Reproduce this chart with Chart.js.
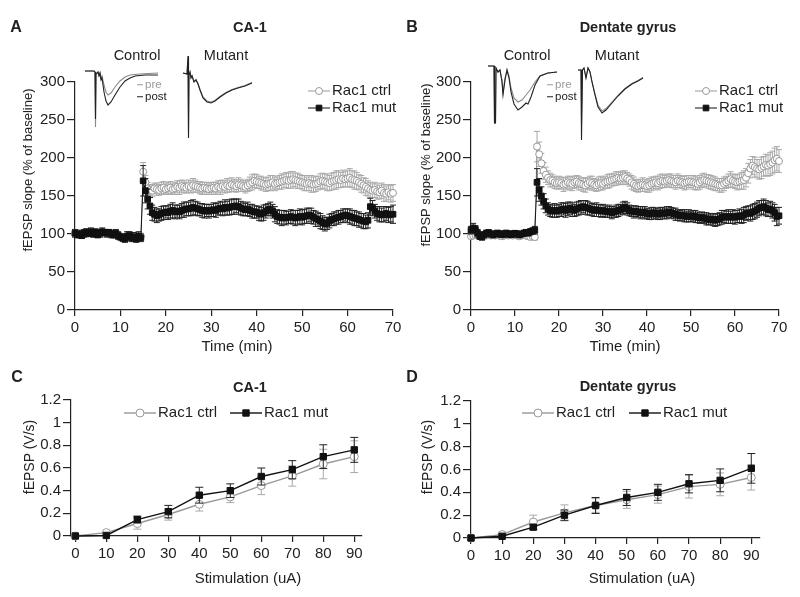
<!DOCTYPE html>
<html>
<head>
<meta charset="utf-8">
<script src="https://cdn.jsdelivr.net/npm/chart.js@4.4.0/dist/chart.umd.min.js"></script>
<style>
  body { margin: 0; background: #fff; }
  #fig { position: relative; width: 800px; height: 597px; font-family: "Liberation Sans", Arial, sans-serif; color: #222; overflow: hidden; }
  canvas { position: absolute; left: 0; top: 0; }
  .t { position: absolute; white-space: nowrap; line-height: 1; transform: translate(-50%, -50%); }
  .l { position: absolute; white-space: nowrap; line-height: 1; transform: translate(0, -50%); }
  .b { font-weight: bold; }
  .rot { transform: translate(-50%, -50%) rotate(-90deg); }
  .dash { display: inline-block; width: 6px; height: 0; border-top: 1px solid; vertical-align: middle; margin-right: 2px; }
</style>
</head>
<body>
<div id="fig">
  <canvas id="panelA" width="800" height="597"></canvas>
  <canvas id="panelB" width="800" height="597"></canvas>
  <canvas id="panelC" width="800" height="597"></canvas>
  <canvas id="panelD" width="800" height="597"></canvas>
  <canvas id="insetACtrl" width="76" height="70" style="left:84px;top:62px"></canvas>
  <canvas id="insetAMut" width="72" height="90" style="left:182px;top:52px"></canvas>
  <canvas id="insetBCtrl" width="72" height="70" style="left:487px;top:60px"></canvas>
  <canvas id="insetBMut" width="68" height="82" style="left:577px;top:62px"></canvas>

  <div class="t b" style="left:16px;top:27px;font-size:16px">A</div>
  <div class="t b" style="left:250px;top:27px;font-size:14.5px">CA-1</div>
  <div class="t b" style="left:412px;top:27px;font-size:16px">B</div>
  <div class="t b" style="left:628px;top:27px;font-size:14.5px">Dentate gyrus</div>
  <div class="t b" style="left:17px;top:377px;font-size:16px">C</div>
  <div class="t b" style="left:250px;top:387px;font-size:14.5px">CA-1</div>
  <div class="t b" style="left:412px;top:377px;font-size:16px">D</div>
  <div class="t b" style="left:628px;top:386px;font-size:14.5px">Dentate gyrus</div>

  <div class="t" style="left:137px;top:55px;font-size:14.5px">Control</div>
  <div class="t" style="left:226px;top:55px;font-size:14.5px">Mutant</div>
  <div class="t" style="left:527px;top:55px;font-size:14.5px">Control</div>
  <div class="t" style="left:617px;top:55px;font-size:14.5px">Mutant</div>

  <div class="l" style="left:137px;top:85px;font-size:11.5px;color:#999"><span class="dash"></span>pre</div>
  <div class="l" style="left:137px;top:97px;font-size:11.5px;color:#222"><span class="dash"></span>post</div>
  <div class="l" style="left:547px;top:85px;font-size:11.5px;color:#999"><span class="dash"></span>pre</div>
  <div class="l" style="left:547px;top:97px;font-size:11.5px;color:#222"><span class="dash"></span>post</div>

  <div class="t rot" style="left:27px;top:170px;font-size:13px">fEPSP slope (% of baseline)</div>
  <div class="t rot" style="left:425px;top:165px;font-size:13px">fEPSP slope (% of baseline)</div>
  <div class="t rot" style="left:29px;top:457px;font-size:14px">fEPSP (V/s)</div>
  <div class="t rot" style="left:427px;top:457px;font-size:14px">fEPSP (V/s)</div>

  <div class="t" style="left:237px;top:345px;font-size:15px">Time (min)</div>
  <div class="t" style="left:625px;top:345px;font-size:15px">Time (min)</div>
  <div class="t" style="left:248px;top:577px;font-size:15px">Stimulation (uA)</div>
  <div class="t" style="left:642px;top:577px;font-size:15px">Stimulation (uA)</div>
</div>

<script>
// ---- LTP time course (sweeps every 0.5 min, 0-70 min) ----
const sweepTimes = Array.from({ length: 141 }, (_, i) => i * 0.5);
const timeTicks = [0, 10, 20, 30, 40, 50, 60, 70];
const slopeTicks = [0, 50, 100, 150, 200, 250, 300];

const caCtrl = [
  100, 101, 99, 100, 102, 100, 101, 102, 101, 100, 101, 100, 102, 101, 100,
  101, 100, 99, 100, 98, 97, 96, 96, 98, 99, 97, 97, 96, 98, 97,
  182, 168, 160, 158, 157, 160, 159, 158, 160, 161,
  159, 160, 161, 159, 160, 162, 161, 163, 162, 161,
  163, 162, 164, 163, 162, 161, 160, 161, 160, 159,
  160, 161, 160, 162, 161, 163, 162, 164, 163, 165,
  164, 163, 165, 164, 163, 162, 164, 166, 168, 170,
  169, 168, 167, 166, 165, 166, 167, 168, 166, 167,
  168, 169, 170, 171, 170, 171, 172, 171, 170, 169,
  168, 167, 166, 167, 166, 165, 166, 167, 169, 170,
  169, 168, 167, 169, 170, 171, 172, 171, 173, 172,
  173, 174, 172, 171, 170, 168, 166, 164, 162, 160,
  158, 157, 158, 156, 155, 157, 154, 153, 155, 153, 154
];
const caCtrlErr = [
  4, 3, 4, 5, 3, 4, 4, 3, 5, 4, 3, 4, 4, 5, 3,
  4, 3, 4, 5, 4, 4, 3, 4, 5, 4, 3, 4, 4, 3, 4,
  12, 9, 8, 7, 8, 7, 8, 7, 8, 8,
  7, 8, 8, 7, 8, 8, 9, 8, 8, 7,
  8, 8, 9, 8, 7, 8, 8, 7, 8, 7,
  8, 7, 8, 8, 9, 8, 8, 9, 8, 9,
  8, 8, 9, 8, 7, 8, 8, 9, 10, 9,
  9, 8, 9, 8, 9, 9, 10, 9, 9, 8,
  9, 10, 9, 10, 10, 11, 10, 9, 10, 9,
  9, 10, 9, 10, 11, 10, 10, 9, 10, 10,
  10, 11, 10, 11, 11, 12, 11, 10, 11, 10,
  11, 12, 11, 12, 11, 10, 11, 10, 11, 10,
  10, 9, 10, 10, 9, 10, 11, 10, 10, 11, 11
];
const caMut = [
  101, 99, 100, 98, 101, 102, 101, 103, 100, 102, 99, 101, 103, 102, 101,
  102, 100, 99, 101, 98, 96, 95, 94, 97, 98, 95, 96, 94, 97, 95,
  170, 157, 146, 137, 128, 126, 124, 125, 127, 128,
  129, 128, 130, 131, 129, 130, 129, 131, 132, 133,
  133, 134, 135, 134, 133, 132, 131, 130, 131, 130,
  131, 132, 131, 133, 134, 133, 135, 134, 135, 136,
  136, 137, 136, 134, 133, 132, 133, 131, 130, 129,
  129, 127, 126, 128, 130, 132, 133, 130, 126, 123,
  122, 121, 122, 121, 122, 123, 122, 121, 122, 123,
  122, 123, 124, 125, 124, 122, 120, 119, 117, 115,
  113, 114, 117, 119, 120, 121, 122, 123, 124, 125,
  124, 123, 122, 121, 120, 119, 118, 117, 116, 118,
  136, 134, 130, 127, 126, 125, 126, 127, 125, 126, 126
];
const caMutErr = [
  5, 4, 5, 4, 5, 5, 4, 5, 4, 5, 4, 5, 5, 4, 5,
  4, 5, 4, 5, 5, 4, 5, 5, 6, 5, 5, 6, 5, 6, 5,
  20, 16, 13, 11, 10, 9, 9, 8, 9, 9,
  8, 9, 9, 10, 9, 8, 9, 9, 10, 9,
  9, 10, 10, 9, 9, 8, 9, 9, 8, 9,
  8, 9, 9, 8, 9, 9, 10, 9, 10, 10,
  10, 9, 10, 9, 9, 8, 9, 8, 9, 8,
  8, 9, 9, 10, 9, 8, 9, 9, 10, 9,
  9, 10, 9, 9, 8, 9, 9, 10, 9, 10,
  10, 9, 10, 9, 10, 9, 10, 9, 10, 9,
  9, 8, 9, 8, 9, 8, 9, 8, 9, 8,
  9, 10, 9, 10, 9, 10, 9, 10, 9, 10,
  11, 10, 9, 9, 10, 9, 10, 9, 10, 10, 12
];
const dgCtrl = [
  97, 98, 99, 98, 97, 98, 99, 98, 99, 98, 99, 98, 99, 98, 97,
  98, 99, 98, 99, 98, 99, 98, 97, 98, 99, 98, 97, 96, 97, 96,
  215, 205, 193, 183, 178, 174, 171, 170, 168, 167,
  168, 167, 165, 166, 168, 167, 166, 168, 169, 167,
  166, 165, 164, 166, 168, 167, 165, 164, 166, 167,
  166, 168, 169, 170, 171, 172, 173, 174, 173, 174,
  175, 173, 171, 168, 166, 164, 163, 164, 165, 164,
  163, 164, 166, 167, 168, 167, 169, 170, 169, 170,
  171, 170, 169, 168, 170, 169, 168, 167, 168, 169,
  169, 168, 167, 166, 168, 170, 171, 170, 169, 168,
  167, 166, 165, 164, 164, 166, 168, 170, 172, 170,
  169, 168, 169, 170, 171, 174, 180, 186, 190, 188,
  186, 185, 187, 189, 191, 190, 192, 194, 197, 199, 196
];
const dgCtrlErr = [
  3, 4, 3, 3, 4, 3, 4, 3, 3, 4, 3, 4, 3, 3, 4,
  3, 4, 3, 3, 4, 3, 4, 3, 3, 4, 3, 4, 3, 3, 4,
  20, 16, 13, 11, 10, 9, 9, 8, 8, 8,
  8, 8, 9, 8, 8, 9, 9, 8, 8, 9,
  8, 9, 9, 8, 8, 9, 8, 8, 9, 9,
  8, 8, 9, 9, 8, 8, 9, 8, 8, 9,
  8, 8, 8, 9, 9, 8, 8, 8, 9, 8,
  8, 9, 9, 8, 8, 9, 9, 9, 8, 8,
  8, 9, 8, 9, 9, 8, 8, 9, 9, 8,
  8, 9, 9, 8, 9, 9, 9, 8, 9, 9,
  9, 9, 8, 9, 9, 9, 8, 9, 10, 9,
  9, 10, 10, 11, 12, 12, 13, 12, 12, 13,
  12, 13, 14, 13, 14, 14, 15, 15, 16, 16, 15
];
const dgMut = [
  105, 108, 106, 101, 97, 96, 99, 101, 102, 100, 99, 100, 101, 100, 99,
  100, 101, 100, 99, 100, 101, 100, 99, 100, 101, 102, 101, 103, 104, 105,
  168, 158, 150, 143, 137, 133, 131, 130, 131, 130,
  131, 132, 133, 131, 133, 134, 132, 131, 133, 134,
  135, 136, 135, 134, 133, 132, 131, 132, 131, 130,
  131, 130, 129, 130, 128, 129, 130, 131, 132, 134,
  135, 133, 131, 130, 129, 130, 129, 128, 129, 128,
  127, 126, 127, 128, 127, 126, 127, 128, 127, 128,
  129, 128, 127, 126, 125, 124, 125, 124, 123, 124,
  123, 124, 123, 122, 121, 122, 121, 120, 119, 120,
  119, 118, 119, 120, 122, 123, 122, 123, 122, 123,
  122, 123, 124, 123, 125, 127, 128, 127, 129, 130,
  132, 134, 135, 136, 134, 132, 133, 131, 128, 123, 124
];
const dgMutErr = [
  5, 6, 5, 5, 4, 4, 4, 4, 3, 4, 4, 3, 4, 4, 3,
  4, 4, 4, 3, 4, 3, 4, 4, 3, 4, 4, 3, 4, 4, 5,
  18, 15, 12, 10, 9, 8, 8, 8, 9, 8,
  8, 9, 8, 9, 9, 8, 9, 8, 9, 9,
  9, 8, 9, 9, 8, 8, 8, 9, 8, 8,
  8, 8, 7, 8, 8, 7, 8, 8, 7, 8,
  8, 8, 7, 7, 8, 7, 7, 8, 7, 8,
  7, 7, 8, 7, 7, 7, 8, 7, 7, 8,
  7, 7, 7, 8, 7, 7, 7, 8, 7, 8,
  7, 7, 8, 7, 7, 7, 7, 8, 7, 7,
  8, 8, 8, 8, 9, 8, 8, 9, 8, 9,
  9, 8, 9, 9, 10, 9, 9, 10, 10, 10,
  10, 10, 9, 10, 10, 9, 10, 10, 11, 12, 11
];

// ---- input/output curves ----
const stimulation = [0, 10, 20, 30, 40, 50, 60, 70, 80, 90];
const ioTicksX = [0, 10, 20, 30, 40, 50, 60, 70, 80, 90];
const ioTicksY = [0, 0.2, 0.4, 0.6, 0.8, 1, 1.2];
const caIoCtrl = [0.0, 0.03, 0.11, 0.19, 0.28, 0.345, 0.445, 0.53, 0.635, 0.70];
const caIoCtrlErr = [0, 0, 0.05, 0.05, 0.06, 0.05, 0.08, 0.09, 0.13, 0.14];
const caIoMut = [0.0, 0.005, 0.145, 0.215, 0.36, 0.40, 0.525, 0.585, 0.70, 0.76];
const caIoMutErr = [0, 0, 0.03, 0.055, 0.07, 0.06, 0.075, 0.08, 0.105, 0.11];
const dgIoCtrl = [0.0, 0.03, 0.14, 0.22, 0.285, 0.335, 0.38, 0.45, 0.47, 0.53];
const dgIoCtrlErr = [0, 0.02, 0.06, 0.07, 0.06, 0.075, 0.075, 0.10, 0.10, 0.11];
const dgIoMut = [0.0, 0.015, 0.095, 0.20, 0.285, 0.355, 0.40, 0.475, 0.505, 0.61];
const dgIoMutErr = [0, 0.01, 0.02, 0.045, 0.07, 0.07, 0.07, 0.08, 0.10, 0.13];

// ---- example traces, [ms, mV] ----
const caCtrlPre = [[0, 0], [1.8, 0], [2.0, -0.02], [2.1, -1.12], [2.2, -0.06], [2.4, -0.04], [2.6, -0.02], [2.8, -0.08], [3.0, -0.04], [3.2, -0.14], [3.4, -0.10], [3.8, -0.28], [4.2, -0.42], [4.6, -0.48], [5.2, -0.44], [6.0, -0.32], [7.0, -0.20], [8.0, -0.12], [9.0, -0.08], [11.0, -0.06], [14.6, -0.04]];
const caCtrlPost = [[0, 0], [1.8, 0], [2.0, -0.02], [2.1, -0.96], [2.2, -0.06], [2.4, -0.04], [2.6, -0.02], [2.8, -0.10], [3.0, -0.04], [3.2, -0.18], [3.4, -0.14], [3.8, -0.42], [4.2, -0.60], [4.6, -0.68], [5.2, -0.62], [6.0, -0.48], [7.0, -0.32], [8.0, -0.20], [9.0, -0.14], [10.0, -0.10], [12.0, -0.08], [14.6, -0.08]];
const caMutPre = [[0, 0], [0.8, -0.02], [1.0, 0.30], [1.1, -1.24], [1.2, -0.04], [1.4, 0.02], [1.6, -0.09], [1.8, -0.05], [2.2, -0.17], [2.6, -0.13], [3.0, -0.21], [3.4, -0.33], [4.0, -0.48], [4.8, -0.56], [5.6, -0.58], [6.4, -0.55], [7.4, -0.47], [8.6, -0.39], [9.8, -0.33], [11.0, -0.29], [12.4, -0.25], [13.8, -0.19]];
const caMutPost = [[0, 0], [0.8, -0.02], [1.0, 0.34], [1.1, -1.30], [1.2, -0.04], [1.4, 0.02], [1.6, -0.10], [1.8, -0.06], [2.2, -0.18], [2.6, -0.14], [3.0, -0.22], [3.4, -0.34], [4.0, -0.50], [4.8, -0.58], [5.6, -0.60], [6.4, -0.56], [7.4, -0.48], [8.6, -0.40], [9.8, -0.34], [11.0, -0.30], [12.4, -0.26], [13.8, -0.20]];
const dgCtrlPre = [[0, 0], [1.2, 0], [1.3, -1.14], [1.5, -1.14], [1.6, -0.04], [2.0, -0.12], [2.4, -0.08], [2.8, -0.28], [3.0, -0.52], [3.4, -0.24], [3.8, -0.08], [4.2, -0.20], [4.6, -0.44], [5.2, -0.64], [6.0, -0.72], [6.8, -0.68], [7.6, -0.58], [8.4, -0.48], [9.4, -0.32], [10.4, -0.20], [12.0, -0.14], [13.8, -0.12]];
const dgCtrlPost = [[0, 0], [1.2, 0], [1.3, -1.14], [1.5, -1.14], [1.6, -0.04], [2.0, -0.12], [2.4, -0.08], [2.8, -0.32], [3.0, -0.58], [3.4, -0.28], [3.8, -0.08], [4.2, -0.24], [4.6, -0.52], [5.2, -0.76], [6.0, -0.88], [6.8, -0.82], [7.6, -0.74], [8.0, -0.76], [8.6, -0.62], [9.4, -0.38], [10.4, -0.20], [12.0, -0.14], [13.8, -0.12]];
const dgMutPre = [[0, 0], [0.6, 0], [0.7, -1.06], [0.9, 0], [1.2, 0.04], [1.6, -0.15], [2.0, 0.04], [2.4, -0.04], [2.8, -0.23], [3.4, -0.48], [4.0, -0.70], [4.8, -0.82], [5.6, -0.77], [6.8, -0.64], [8.0, -0.51], [9.4, -0.37], [10.8, -0.27], [12.0, -0.21], [13.0, -0.15]];
const dgMutPost = [[0, 0], [0.6, 0], [0.7, -1.40], [0.9, 0], [1.2, 0.04], [1.6, -0.16], [2.0, 0.04], [2.4, -0.04], [2.8, -0.24], [3.4, -0.50], [4.0, -0.74], [4.8, -0.86], [5.6, -0.80], [6.8, -0.66], [8.0, -0.52], [9.4, -0.38], [10.8, -0.28], [12.0, -0.22], [13.0, -0.16]];

const FONT = '"Liberation Sans", Arial, sans-serif';
const INK = "#222";
const GREY = "#999";
const ERR_GREY = "#aaa";

// error bars drawn just under each dataset's own markers
const errorBars = {
  id: "errorBars",
  beforeDatasetDraw(chart, args) {
    const ds = chart.data.datasets[args.index];
    if (!ds.err) return;
    const ctx = chart.ctx;
    const ys = chart.scales.y;
    const cap = ds.errCap || 3;
    ctx.save();
    ctx.strokeStyle = ds.errColor;
    ctx.lineWidth = 1;
    args.meta.data.forEach((pt, i) => {
      const e = ds.err[i];
      if (!e) return;
      const v = ds.data[i].y;
      const top = ys.getPixelForValue(v + e);
      const bot = ys.getPixelForValue(v - e);
      ctx.beginPath();
      ctx.moveTo(pt.x, top); ctx.lineTo(pt.x, bot);
      ctx.moveTo(pt.x - cap, top); ctx.lineTo(pt.x + cap, top);
      ctx.moveTo(pt.x - cap, bot); ctx.lineTo(pt.x + cap, bot);
      ctx.stroke();
    });
    ctx.restore();
  }
};

// legend with line + marker samples at fixed spots
const markerLegend = {
  id: "markerLegend",
  afterDraw(chart, args, opts) {
    if (!opts.items) return;
    const ctx = chart.ctx;
    ctx.save();
    ctx.font = opts.size + "px " + FONT;
    ctx.textBaseline = "middle";
    opts.items.forEach((it) => {
      const ds = chart.data.datasets[it.index];
      ctx.strokeStyle = ds.borderColor;
      ctx.lineWidth = ds.borderWidth;
      ctx.beginPath();
      ctx.moveTo(it.x - it.half, it.y);
      ctx.lineTo(it.x + it.half, it.y);
      ctx.stroke();
      ctx.fillStyle = ds.pointBackgroundColor;
      ctx.strokeStyle = ds.pointBorderColor;
      ctx.lineWidth = ds.pointBorderWidth;
      Chart.helpers.drawPoint(ctx, { pointStyle: ds.pointStyle, radius: ds.pointRadius, borderWidth: ds.pointBorderWidth, rotation: 0 }, it.x, it.y);
      ctx.fillStyle = INK;
      ctx.fillText(ds.label, it.x + it.half + 2, it.y);
    });
    ctx.restore();
  }
};

Chart.register(errorBars, markerLegend);

const pts = (xs, ys) => xs.map((x, i) => ({ x, y: ys[i] }));

function ctrlSet(xs, ys, err, st) {
  return {
    label: "Rac1 ctrl", data: pts(xs, ys), err, errColor: ERR_GREY, errCap: st.cap,
    showLine: true, borderColor: GREY, borderWidth: st.lw,
    pointStyle: "circle", pointRadius: st.r, pointBorderWidth: 1,
    pointBackgroundColor: "#fff", pointBorderColor: GREY, order: 1, clip: false
  };
}

function mutSet(xs, ys, err, st) {
  return {
    label: "Rac1 mut", data: pts(xs, ys), err, errColor: INK, errCap: st.cap,
    showLine: true, borderColor: "#111", borderWidth: st.lw,
    pointStyle: "rect", pointRadius: st.sq, pointBorderWidth: 1,
    pointBackgroundColor: "#111", pointBorderColor: "#111", order: 0, clip: false
  };
}

function panel(id, cfg) {
  const a = cfg.area;
  const yW = 60, xH = 40;
  const tickFont = { family: FONT, size: 15 };
  return new Chart(document.getElementById(id), {
    type: "scatter",
    data: { datasets: cfg.datasets },
    options: {
      responsive: false,
      animation: false,
      events: [],
      layout: { padding: { left: a.l - yW, top: a.t, right: 800 - a.r, bottom: 597 - a.b - xH } },
      plugins: { legend: { display: false }, tooltip: { enabled: false }, markerLegend: cfg.legend },
      scales: {
        x: {
          type: "linear", min: cfg.xMin, max: cfg.xMax,
          afterFit: (s) => { s.height = xH; },
          afterBuildTicks: (s) => { s.ticks = cfg.xTicks.map((v) => ({ value: v })); },
          border: { color: INK, width: 1.2 },
          grid: { drawOnChartArea: false, color: INK, lineWidth: 1.2, tickLength: 6 },
          ticks: { color: INK, font: tickFont, padding: 3, maxRotation: 0, callback: (v) => String(v) }
        },
        y: {
          type: "linear", min: cfg.yMin, max: cfg.yMax,
          afterFit: (s) => { s.width = yW; },
          afterBuildTicks: (s) => { s.ticks = cfg.yTicks.map((v) => ({ value: v })); },
          border: { color: INK, width: 1.2 },
          grid: { drawOnChartArea: false, color: INK, lineWidth: 1.2, tickLength: 8 },
          ticks: { color: INK, font: tickFont, padding: 2, callback: (v) => String(v) }
        }
      }
    }
  });
}

const timeStyle = { r: 3.5, sq: 4, lw: 1, cap: 3 };
const ioStyle = { r: 4, sq: 4.5, lw: 1.4, cap: 4 };

panel("panelA", {
  area: { l: 75, r: 393, t: 82, b: 310 },
  xMin: 0, xMax: 70, yMin: 0, yMax: 300, xTicks: timeTicks, yTicks: slopeTicks,
  datasets: [ctrlSet(sweepTimes, caCtrl, caCtrlErr, timeStyle), mutSet(sweepTimes, caMut, caMutErr, timeStyle)],
  legend: { size: 15, items: [{ index: 0, x: 319, y: 91, half: 11 }, { index: 1, x: 319, y: 108, half: 11 }] }
});

panel("panelB", {
  area: { l: 471, r: 779, t: 82, b: 310 },
  xMin: 0, xMax: 70, yMin: 0, yMax: 300, xTicks: timeTicks, yTicks: slopeTicks,
  datasets: [ctrlSet(sweepTimes, dgCtrl, dgCtrlErr, timeStyle), mutSet(sweepTimes, dgMut, dgMutErr, timeStyle)],
  legend: { size: 15, items: [{ index: 0, x: 706, y: 91, half: 11 }, { index: 1, x: 706, y: 108, half: 11 }] }
});

panel("panelC", {
  area: { l: 71, r: 362, t: 400, b: 536 },
  xMin: -1.4, xMax: 92.5, yMin: 0, yMax: 1.2, xTicks: ioTicksX, yTicks: ioTicksY,
  datasets: [ctrlSet(stimulation, caIoCtrl, caIoCtrlErr, ioStyle), mutSet(stimulation, caIoMut, caIoMutErr, ioStyle)],
  legend: { size: 15, items: [{ index: 0, x: 140, y: 413, half: 16 }, { index: 1, x: 246, y: 413, half: 16 }] }
});

panel("panelD", {
  area: { l: 471, r: 760, t: 401, b: 538 },
  xMin: 0, xMax: 92.8, yMin: 0, yMax: 1.2, xTicks: ioTicksX, yTicks: ioTicksY,
  datasets: [ctrlSet(stimulation, dgIoCtrl, dgIoCtrlErr, ioStyle), mutSet(stimulation, dgIoMut, dgIoMutErr, ioStyle)],
  legend: { size: 15, items: [{ index: 0, x: 538, y: 413, half: 16 }, { index: 1, x: 645, y: 413, half: 16 }] }
});

function inset(id, xr, yr, pre, post) {
  const line = (trace, color) => ({
    data: trace.map(([x, y]) => ({ x, y })), showLine: true,
    borderColor: color, borderWidth: 1.1, pointRadius: 0, clip: false
  });
  return new Chart(document.getElementById(id), {
    type: "scatter",
    data: { datasets: [line(post, "#222"), line(pre, "#8a8a8a")] },
    options: {
      responsive: false, animation: false, events: [],
      layout: { padding: 0 },
      plugins: { legend: { display: false }, tooltip: { enabled: false } },
      scales: {
        x: { type: "linear", display: false, min: xr[0], max: xr[1] },
        y: { type: "linear", display: false, min: yr[0], max: yr[1] }
      }
    }
  });
}

inset("insetACtrl", [-0.2, 15.0], [-1.22, 0.18], caCtrlPre, caCtrlPost);
inset("insetAMut", [-0.2, 14.2], [-1.38, 0.42], caMutPre, caMutPost);
inset("insetBCtrl", [-0.2, 14.2], [-1.28, 0.12], dgCtrlPre, dgCtrlPost);
inset("insetBMut", [-0.2, 13.4], [-1.48, 0.16], dgMutPre, dgMutPost);
</script>
</body>
</html>
